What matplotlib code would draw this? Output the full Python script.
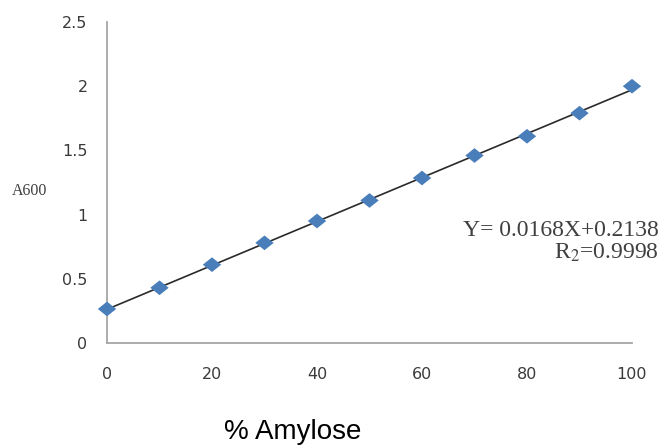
import numpy as np
import matplotlib
matplotlib.use("Agg")
import matplotlib.pyplot as plt

amylose = [0, 10, 20, 30, 40, 50, 60, 70, 80, 90, 100]
a600 = [0.265, 0.43, 0.61, 0.78, 0.95, 1.11, 1.285, 1.46, 1.61, 1.79, 2.00]
xticks = [0, 20, 40, 60, 80, 100]
yticks = [0, 0.5, 1, 1.5, 2, 2.5]
ytick_labels = ["0", "0.5", "1", "1.5", "2", "2.5"]
equation = "Y= 0.0168X+0.2138"
r2_text = r"R$_2$=0.9998"

fig = plt.figure(figsize=(6.62, 4.48), dpi=100)
ax = fig.add_axes([107/662, 1 - 343/448, (632-107)/662, (343-22)/448])

slope, intercept = np.polyfit(amylose, a600, 1)
xl = np.array([amylose[0], amylose[-1]])
ax.plot(xl, slope * xl + intercept, color="#2a2a2a", lw=1.2, zorder=2)
diamond = [(-1, 0), (0, 0.8), (1, 0), (0, -0.8), (-1, 0)]
ax.scatter(amylose, a600, marker=diamond, s=175, color="#4A7EBB", zorder=3,
           edgecolors="none", clip_on=False)

ax.set_xlim(0, 100)
ax.set_ylim(0, 2.5)
ax.set_xticks(xticks)
ax.set_xticklabels([str(t) for t in xticks])
ax.set_yticks(yticks)
ax.set_yticklabels(ytick_labels)
for s in ["top", "right"]:
    ax.spines[s].set_visible(False)
for s in ["left", "bottom"]:
    ax.spines[s].set_color("#A6A6A6")
    ax.spines[s].set_linewidth(1.3)
ax.tick_params(axis="both", length=0, colors="#3a3a3a", labelsize=11.5)
ax.tick_params(axis="x", pad=17)
ax.tick_params(axis="y", pad=14)
for lbl in ax.get_xticklabels() + ax.get_yticklabels():
    lbl.set_fontfamily("DejaVu Sans")

fig.text(12/662, 1 - 191/448, "A600", family="Liberation Serif", fontsize=11.5,
         color="#404040", va="center", ha="left")
fig.text(293/662, 1 - 432/448, "% Amylose", family="Liberation Sans", fontsize=20,
         color="black", va="center", ha="center")
fig.text(659/662, 1 - 230/448, equation, family="Liberation Serif", fontsize=17,
         color="#404040", va="center", ha="right")
fig.text(659/662, 1 - 253/448, r2_text, family="Liberation Serif", fontsize=17,
         color="#404040", va="center", ha="right", math_fontfamily="stix")

fig.savefig("out.png", dpi=100)
